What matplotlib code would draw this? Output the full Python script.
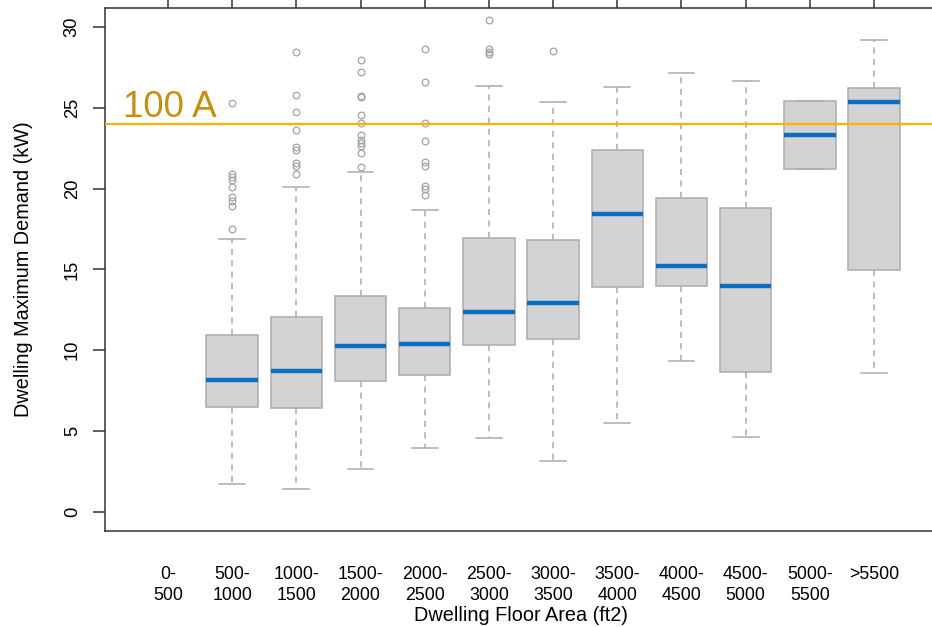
import matplotlib.pyplot as plt
import numpy as np

plt.rcParams['font.family'] = ['Liberation Sans', 'DejaVu Sans']

# categories (floor area bins, ft2)
floor_area = ["0-\n500", "500-\n1000", "1000-\n1500", "1500-\n2000", "2000-\n2500",
              "2500-\n3000", "3000-\n3500", "3500-\n4000", "4000-\n4500",
              "4500-\n5000", "5000-\n5500", ">5500"]

# box statistics (kW), first bin has no data
whisker_low = [np.nan, 1.71, 1.39, 2.64, 3.94, 4.58, 3.12, 5.51, 9.33, 4.64, 21.24, 8.59]
q1 = [np.nan, 6.50, 6.44, 8.11, 8.46, 10.32, 10.67, 13.89, 13.98, 8.65, 21.24, 14.97]
median = [np.nan, 8.17, 8.71, 10.28, 10.36, 12.37, 12.90, 18.41, 15.21, 13.96, 23.32, 25.35]
q3 = [np.nan, 10.94, 12.04, 13.34, 12.61, 16.93, 16.84, 22.38, 19.41, 18.79, 25.41, 26.24]
whisker_high = [np.nan, 16.90, 20.12, 21.05, 18.68, 26.36, 25.35, 26.28, 27.18, 26.67, 25.41, 29.19]

outliers = [
    [],
    [25.31, 20.91, 20.74, 20.54, 20.12, 19.47, 19.22, 18.95, 17.49],
    [28.45, 25.78, 24.75, 23.62, 22.58, 22.38, 21.57, 21.41, 20.93],
    [27.97, 27.23, 25.76, 25.70, 24.58, 24.05, 23.32, 23.02, 22.81, 22.66, 22.23, 21.34],
    [28.67, 26.61, 24.09, 22.93, 21.63, 21.41, 20.15, 20.00, 19.59],
    [30.43, 28.63, 28.48, 28.34],
    [28.55],
    [], [], [], [], [],
]

limit_kw = 24.0  # 100 A service

fig = plt.figure(figsize=(9.32, 6.27), dpi=100)
# right edge of the frame is cut off in the original, so axes run past the figure
ax = fig.add_axes([105 / 932, 1 - 530.7 / 627, 832 / 932, (530.7 - 8) / 627])

stats = []
positions = []
for i in range(len(floor_area)):
    if np.isnan(median[i]):
        continue
    stats.append(dict(med=median[i], q1=q1[i], q3=q3[i],
                      whislo=whisker_low[i], whishi=whisker_high[i],
                      fliers=outliers[i]))
    positions.append(i + 1)

edge = '#ababab'
ax.bxp(stats, positions=positions, widths=0.8, capwidths=0.4, patch_artist=True,
       boxprops=dict(facecolor='#d3d3d3', edgecolor=edge, linewidth=1.1),
       medianprops=dict(color='#0a6fc2', linewidth=3.2, solid_capstyle='butt'),
       whiskerprops=dict(color=edge, linestyle=(0, (4, 3.5)), linewidth=1.1),
       capprops=dict(color=edge, linewidth=1.1),
       flierprops=dict(marker='o', markersize=4.8, markerfacecolor='none',
                       markeredgecolor='#a3a3a3', markeredgewidth=0.9))

# 100 A line
ax.axhline(limit_kw, color='#ffb000', linewidth=1.6, zorder=3)
ax.text(0.30, limit_kw + 0.45, "100 A", color='#c98f0c', fontsize=26.5,
        ha='left', va='baseline')

ax.set_xlim(0.02, 12.98)
ax.set_ylim(-1.18, 31.19)

ax.set_xticks(np.arange(1, len(floor_area) + 1))
ax.set_xticklabels(floor_area, fontsize=12.8, linespacing=1.3)
ax.tick_params(axis='x', bottom=False, top=True, labelbottom=True, labeltop=False,
               direction='out', length=7, width=1.1, color='#333333', pad=18.5)

ax.set_yticks(np.arange(0, 31, 5))
ax.tick_params(axis='y', direction='out', length=8.4, width=1.1, color='#333333',
               labelsize=13.2, pad=9)
for label in ax.get_yticklabels():
    label.set_rotation(90)
    label.set_va('center')

for side in ['left', 'bottom', 'top', 'right']:
    ax.spines[side].set_color('#333333')
    ax.spines[side].set_linewidth(1.1)

ax.set_xlabel("Dwelling Floor Area (ft2)", fontsize=14.3)
ax.set_ylabel("Dwelling Maximum Demand (kW)", fontsize=14.3)
ax.xaxis.set_label_coords((520.5 - 105) / 832, (530.7 - 606) / 522.7)
ax.yaxis.set_label_coords((33 - 105) / 832, 0.5)

fig.savefig("out.png", dpi=100)
